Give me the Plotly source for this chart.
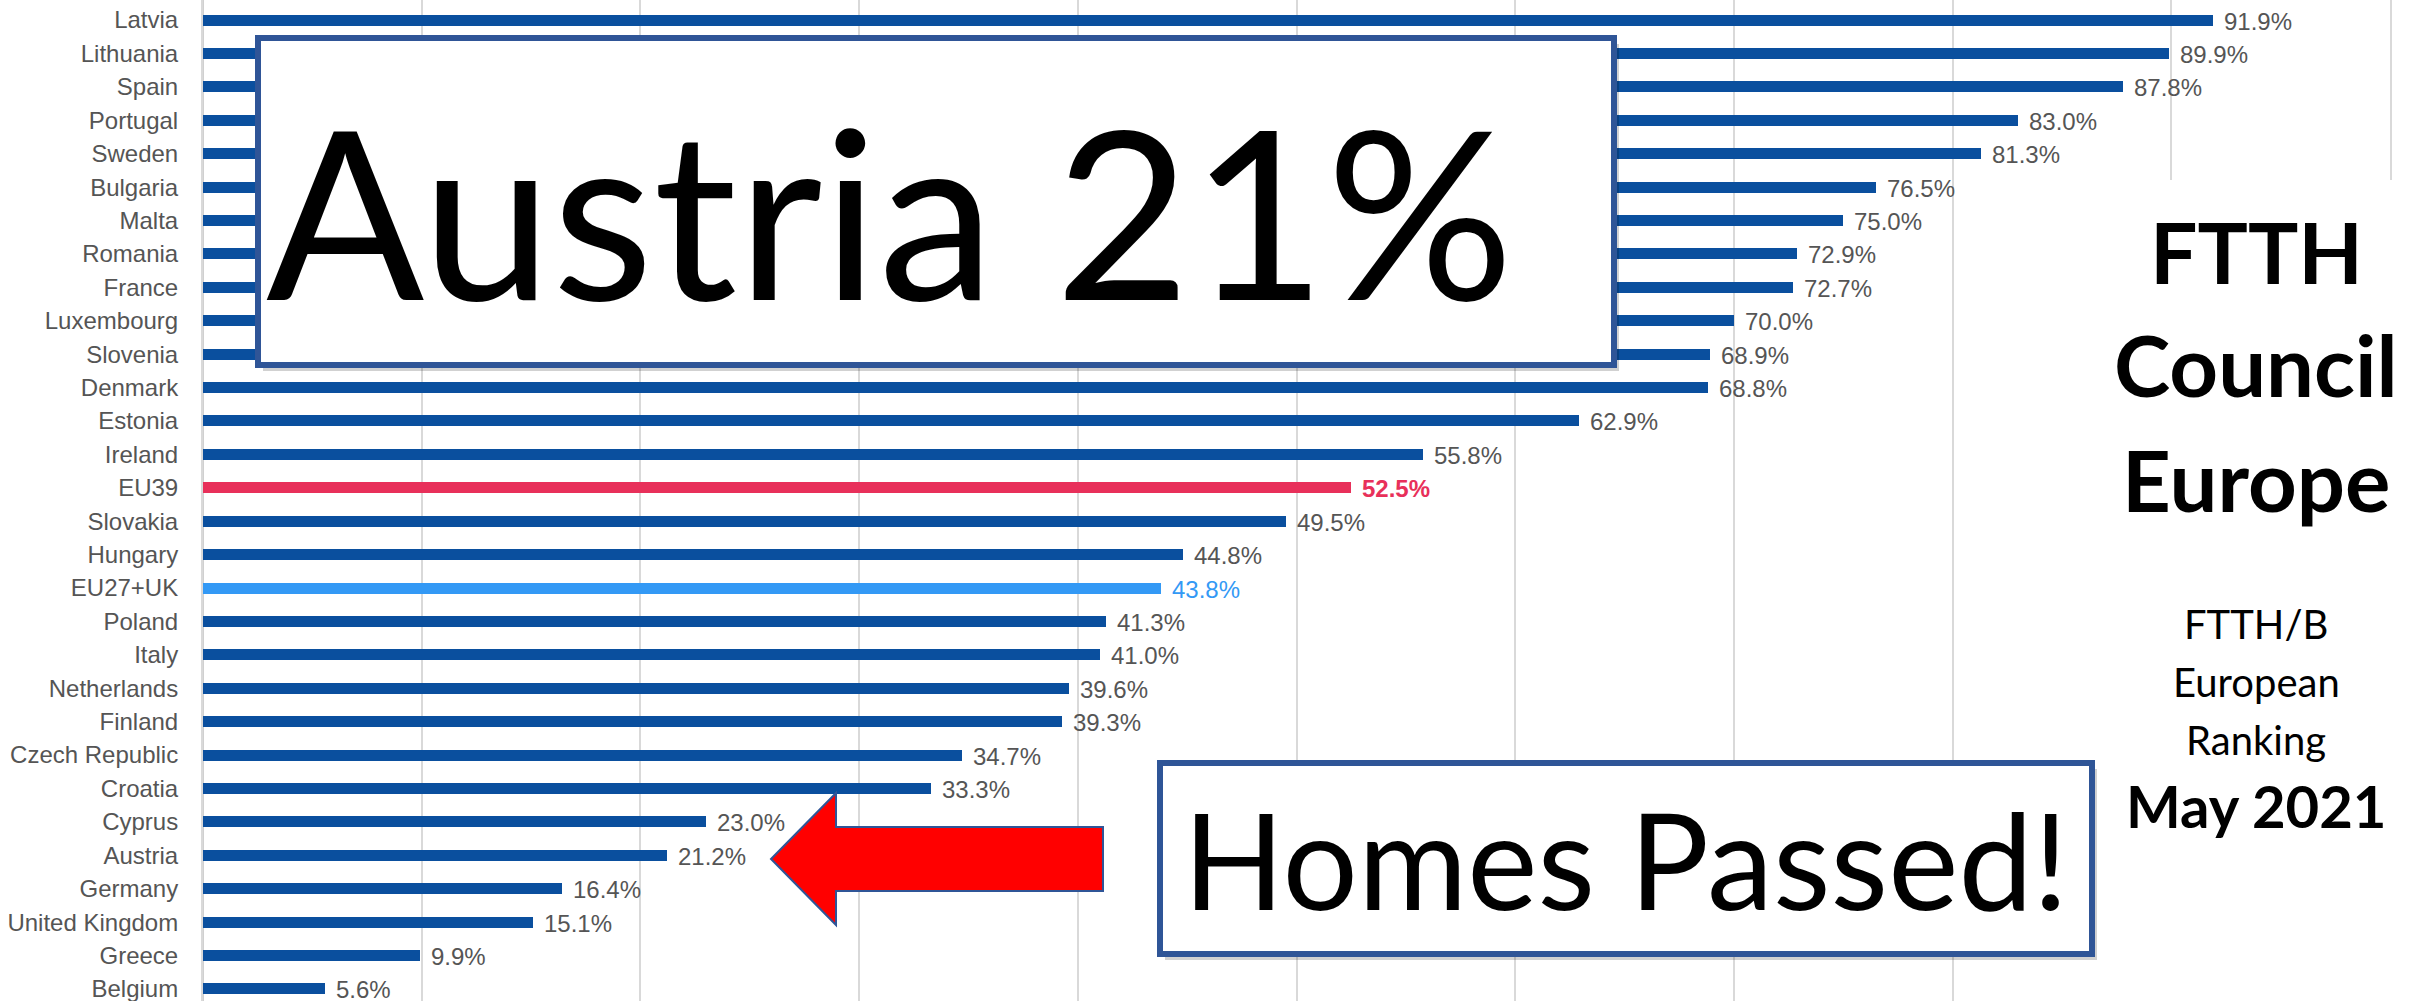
import plotly.graph_objects as go

countries = ["Latvia", "Lithuania", "Spain", "Portugal", "Sweden", "Bulgaria", "Malta",
             "Romania", "France", "Luxembourg", "Slovenia", "Denmark", "Estonia", "Ireland",
             "EU39", "Slovakia", "Hungary", "EU27+UK", "Poland", "Italy", "Netherlands",
             "Finland", "Czech Republic", "Croatia", "Cyprus", "Austria", "Germany",
             "United Kingdom", "Greece", "Belgium"]
values = [91.9, 89.9, 87.8, 83.0, 81.3, 76.5, 75.0, 72.9, 72.7, 70.0, 68.9, 68.8, 62.9, 55.8,
          52.5, 49.5, 44.8, 43.8, 41.3, 41.0, 39.6, 39.3, 34.7, 33.3, 23.0, 21.2, 16.4,
          15.1, 9.9, 5.6]
x_ticks = [0, 10, 20, 30, 40, 50, 60, 70, 80, 90, 100]

BLUE = "#0a4f9e"
RED = "#e8305a"
LIGHT = "#3399f5"
GREY = "#555555"
BORDER = "#2f5597"

bar_colors = [RED if c == "EU39" else LIGHT if c == "EU27+UK" else BLUE for c in countries]

W, H = 2420, 1001
ML, MR = 203, 30
PW = W - ML - MR


def px(x):
    return (x - ML) / PW


def py(y):
    return 1 - y / H


fig = go.Figure()
fig.add_trace(go.Bar(
    x=values, y=countries, orientation="h", width=0.33,
    marker=dict(color=bar_colors, line=dict(width=0)),
    hoverinfo="skip", showlegend=False,
))

annotations = []
for c, v, col in zip(countries, values, bar_colors):
    if c == "EU39":
        f = dict(family="Liberation Sans", size=24, color=RED, weight="bold")
    elif c == "EU27+UK":
        f = dict(family="Liberation Sans", size=24, color=LIGHT)
    else:
        f = dict(family="Liberation Sans", size=24, color=GREY)
    annotations.append(dict(x=v, y=c, xref="x", yref="y", text=f"{v:.1f}%",
                            showarrow=False, xanchor="left", yanchor="middle",
                            xshift=9, yshift=-1, font=f))

shapes = []
# white panel on the right
shapes.append(dict(type="rect", xref="paper", yref="paper", layer="above",
                   x0=px(2100), x1=px(2420), y0=py(1001), y1=py(180),
                   fillcolor="white", line=dict(width=0)))


def box(x0, y0, x1, y1):
    shapes.append(dict(type="rect", xref="paper", yref="paper", layer="above",
                       x0=px(x0 + 5), x1=px(x1 + 5), y0=py(y1 + 6), y1=py(y0 + 6),
                       fillcolor="rgba(0,0,0,0.18)", line=dict(width=0)))
    shapes.append(dict(type="rect", xref="paper", yref="paper", layer="above",
                       x0=px(x0), x1=px(x1), y0=py(y1), y1=py(y0),
                       fillcolor="white", line=dict(color=BORDER, width=6)))


box(258, 38, 1614, 365)
box(1160, 763, 2092, 954)

# red arrow
pts = [(771, 859), (836, 793), (836, 827), (1103, 827), (1103, 891), (836, 891), (836, 925)]
path = "M " + " L ".join(f"{px(a):.5f},{py(b):.5f}" for a, b in pts) + " Z"
shapes.append(dict(type="path", xref="paper", yref="paper", layer="above", path=path,
                   fillcolor="#ff0000", line=dict(color=BORDER, width=2)))

BIG = "Lato"
annotations.append(dict(x=px(890), y=py(209), xref="paper", yref="paper", text="Austria 21%",
                        showarrow=False, xanchor="center", yanchor="middle",
                        font=dict(family=BIG, size=234, color="black")))
annotations.append(dict(x=px(1626), y=py(858), xref="paper", yref="paper", text="Homes Passed!",
                        showarrow=False, xanchor="center", yanchor="middle",
                        font=dict(family=BIG, size=133, color="black")))

right_lines = [("FTTH", 251, 84, "bold"), ("Council", 364, 85, "bold"), ("Europe", 479, 85, "bold"),
               ("FTTH/B", 624, 40, "normal"), ("European", 682, 40, "normal"),
               ("Ranking", 740, 40, "normal"), ("May 2021", 805, 58, "bold")]
for t, yc, s, wgt in right_lines:
    annotations.append(dict(x=px(2256), y=py(yc), xref="paper", yref="paper", text=t,
                            showarrow=False, xanchor="center", yanchor="middle",
                            font=dict(family=BIG, size=s, color="black", weight=wgt)))

fig.update_layout(
    width=W, height=H,
    margin=dict(l=ML, r=MR, t=0, b=0, pad=0),
    plot_bgcolor="white", paper_bgcolor="white",
    shapes=shapes, annotations=annotations,
    xaxis=dict(range=[0, 100], tickvals=x_ticks, showticklabels=False, showgrid=True,
               gridcolor="#d9d9d9", gridwidth=2, zeroline=True, zerolinecolor="#d0d0d0",
               zerolinewidth=2, fixedrange=True),
    yaxis=dict(type="category", categoryarray=countries, range=[29.36, -0.6],
               tickfont=dict(family="Liberation Sans", size=24, color=GREY),
               ticks="", ticklabelstandoff=18, showgrid=False, fixedrange=True,
               showline=True, mirror=True, linecolor="#d9d9d9", linewidth=2),
    bargap=0,
)

fig.write_html("out.html", config={"displayModeBar": False},
               post_script="document.body.style.margin='0';document.body.style.overflow='hidden';")
